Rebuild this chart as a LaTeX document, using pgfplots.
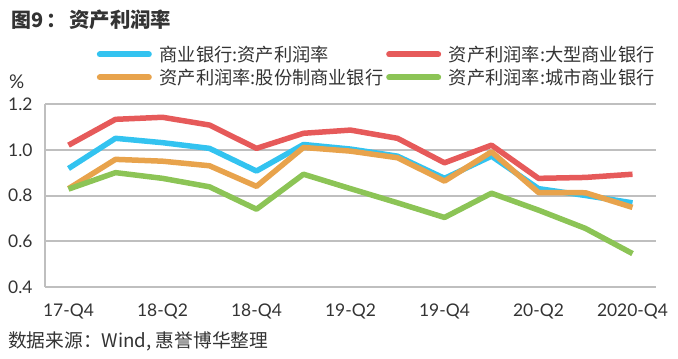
\documentclass[border=0pt]{standalone}
\usepackage{fontspec}
\usepackage{pgfplots}
\pgfplotsset{compat=1.18}
\setmainfont{Lato}
\newfontfamily\cjk{Noto Sans CJK SC}
\definecolor{cblue}{HTML}{33C3F0}
\definecolor{cred}{HTML}{E65A5A}
\definecolor{corange}{HTML}{E8A34C}
\definecolor{cgreen}{HTML}{8CC456}
\definecolor{cgrid}{HTML}{BFBFBF}
\definecolor{ctext}{HTML}{333333}
\pgfplotstableread{
x blue red orange green
0 0.918 1.020 0.830 0.828
1 1.050 1.133 0.958 0.900
2 1.031 1.142 0.950 0.875
3 1.006 1.108 0.930 0.838
4 0.907 1.006 0.840 0.740
5 1.023 1.072 1.010 0.893
6 1.003 1.086 0.994 0.830
7 0.972 1.050 0.965 0.768
8 0.875 0.943 0.863 0.704
9 0.972 1.020 0.991 0.810
10 0.830 0.875 0.813 0.736
11 0.800 0.879 0.812 0.656
12 0.768 0.893 0.748 0.546
}\roa
\begin{document}
\begin{tikzpicture}[x=1bp,y=1bp]
\path[use as bounding box] (0,0) rectangle (678,358);
\node[anchor=base west, inner sep=0pt, text=ctext, font=\cjk\bfseries\fontsize{20}{22}\selectfont] at (11,331) {图9\kern3bp：};
\node[anchor=base west, inner sep=0pt, text=ctext, font=\cjk\bfseries\fontsize{20.5}{22}\selectfont] at (69,331) {资产利润率};
\node[anchor=base west, inner sep=0pt, text=ctext, font=\fontsize{19}{21}\selectfont] at (9,270) {\%};
\node[anchor=base west, inner sep=0pt, text=ctext, font=\cjk\fontsize{18.8}{20}\selectfont] at (8,11) {数据来源：Wind, 惠誉博华整理};
\begin{axis}[
  at={(45bp,71bp)}, anchor=south west, scale only axis,
  width=611bp, height=183bp,
  xmin=-0.5, xmax=12.5, ymin=0.4, ymax=1.2,
  ytick={0.4,0.6,0.8,1.0,1.2},
  xtick={0,2,4,6,8,10,12},
  xticklabels={17-Q4,18-Q2,18-Q4,19-Q2,19-Q4,20-Q2,2020-Q4},
  /pgf/number format/assume math mode=true,
  /pgf/number format/fixed, /pgf/number format/fixed zerofill, /pgf/number format/precision=1,
  tick label style={font=\fontsize{17.5}{19}\selectfont, text=ctext},
  xticklabel style={yshift=-13bp},
  yticklabel style={xshift=-9bp},
  major tick length=0pt,
  axis lines=left,
  axis line style={cgrid, line width=2bp, -},
  ymajorgrids,
  grid style={cgrid, line width=2bp},
  clip=false,
  legend columns=2,
  legend cell align=left,
  legend style={at={(rel axis cs:0.080,1.318)}, anchor=north west, draw=none, fill=none,
    inner sep=0pt, font=\cjk\fontsize{18.3}{20}\selectfont, text=ctext,
    /tikz/every even column/.append style={column sep=0bp},
    /tikz/every odd column/.append style={column sep=5bp},
    row sep=6bp, nodes={inner sep=0pt}},
  legend image code/.code={\draw[#1, line width=6bp, line cap=round] (3bp,0) -- (52bp,0); \path (0,0) (55bp,0);},
  every axis plot/.append style={line width=5.5bp, line join=round, mark=none},
]
\addplot[cblue] table[x=x, y=blue] {\roa};
\addlegendentry{商业银行:资产利润率}
\addplot[cred] table[x=x, y=red] {\roa};
\addlegendentry{资产利润率:大型商业银行}
\addplot[corange] table[x=x, y=orange] {\roa};
\addlegendentry{资产利润率:股份制商业银行}
\addplot[cgreen] table[x=x, y=green] {\roa};
\addlegendentry{资产利润率:城市商业银行}
\end{axis}
\end{tikzpicture}
\end{document}
